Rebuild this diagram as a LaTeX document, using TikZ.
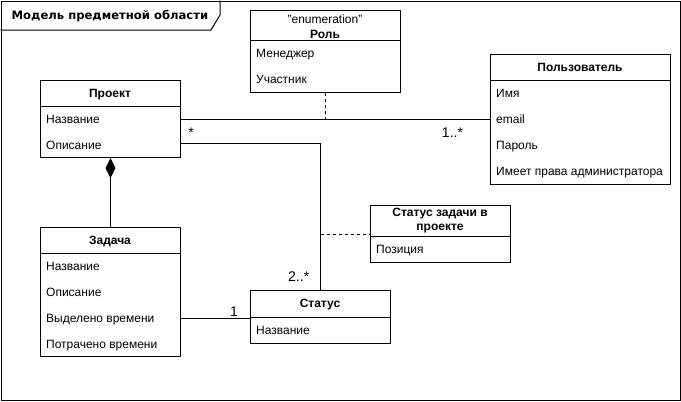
\documentclass[tikz,border=0pt]{standalone}
\usepackage{fontspec}
\setmainfont{Liberation Sans}
\newfontfamily\titlefont{DejaVu Sans}
\usetikzlibrary{arrows.meta}
\tikzset{
  every picture/.style={x=1pt,y=-1pt},
  box/.style={draw, line width=1pt, inner sep=0pt, anchor=north west, fill=white},
  item/.style={anchor=base west, inner sep=0pt, font=\fontsize{12}{14}\selectfont},
  head/.style={anchor=base, inner sep=0pt, font=\fontsize{12}{14}\selectfont\bfseries},
  conn/.style={line width=1pt},
  dconn/.style={line width=1pt, dash pattern=on 3pt off 3pt},
  mult/.style={anchor=base, inner sep=0pt, font=\fontsize{14}{16}\selectfont},
}
\begin{document}
\begin{tikzpicture}
\useasboundingbox (0,0) rectangle (681,402);
% frame
\node[box, minimum width=679pt, minimum height=399pt] (frame) at (0.5,0.5) {};
\draw[line width=1pt] (0.5,30) -- (211,30) -- (220,15) -- (220,0.5);
\node[anchor=base west, inner sep=0pt, font=\titlefont\fontsize{11.6}{13}\selectfont\bfseries] (ftitle) at (11.5,19.5) {Модель предметной области};

% Роль
\node[box, minimum width=150pt, minimum height=82pt] (role) at (250,10) {};
\draw[line width=1pt] (250,40) -- (400,40);
\node[head, font=\fontsize{12}{14}\selectfont] (rst) at (325,23) {"enumeration"};
\node[head] (rname) at (325,38) {Роль};
\node[item] (r1) at (256,57.5) {Менеджер};
\node[item] (r2) at (256,83) {Участник};

% Проект
\node[box, minimum width=140pt, minimum height=77pt] (proj) at (40,80) {};
\draw[line width=1pt] (40,106) -- (180,106);
\node[head] (pname) at (110,97.5) {Проект};
\node[item] (p1) at (46,123.5) {Название};
\node[item] (p2) at (46,149.5) {Описание};
\coordinate (p1c) at (46,119);
\coordinate (p2c) at (46,143.5);

% Пользователь
\node[box, minimum width=180pt, minimum height=130pt] (user) at (490,54) {};
\draw[line width=1pt] (490,80.5) -- (670,80.5);
\node[head] (uname) at (580,71.5) {Пользователь};
\node[item] (u1) at (496,97.5) {Имя};
\node[item] (u2) at (496,123.5) {email};
\node[item] (u3) at (496,149.5) {Пароль};
\node[item] (u4) at (496,175.5) {Имеет права администратора};

% Статус задачи в проекте
\node[box, minimum width=140pt, minimum height=57pt] (stp) at (370,205) {};
\draw[line width=1pt] (370,236) -- (510,236);
\node[head] (stname1) at (440,216) {Статус задачи в};
\node[head] (stname2) at (440,230.5) {проекте};
\node[item] (s1) at (376,253.5) {Позиция};

% Задача
\node[box, minimum width=140pt, minimum height=129pt] (task) at (40,227) {};
\draw[line width=1pt] (40,253) -- (180,253);
\node[head] (tname) at (110,244.5) {Задача};
\node[item] (t1) at (46,270.5) {Название};
\node[item] (t2) at (46,296.5) {Описание};
\node[item] (t3) at (46,322.5) {Выделено времени};
\node[item] (t4) at (46,348.5) {Потрачено времени};
\coordinate (t3c) at (46,318);

% Статус
\node[box, minimum width=140pt, minimum height=53pt] (status) at (250,290) {};
\draw[line width=1pt] (250,317) -- (390,317);
\node[head] (sname) at (320,307.5) {Статус};
\node[item] (st1) at (256,334.5) {Название};

% connectors
\coordinate (pr) at (proj.east |- p1c);
\coordinate (ul) at (user.west |- p1c);
\draw[conn] (pr) -- (ul);
\coordinate (rj) at (role.south |- p1c);
\draw[dconn] (role.south) -- (rj);
\node[mult] (m1) at (191,137.5) {*};
\node[mult] (m2) at (452.5,137.5) {1..*};

\coordinate (pd) at (proj.east |- p2c);
\draw[conn] (pd) -| (status.north);
\coordinate (aj) at (status.north |- stp.west);
\draw[dconn] (aj) -- (stp.west);
\node[mult] (m3) at (298.7,281.5) {2..*};

\draw[conn, -{Diamond[length=20pt,width=10pt]}] (task.north) -- (proj.south);

\coordinate (tr) at (task.east |- t3c);
\coordinate (sl) at (status.west |- t3c);
\draw[conn] (tr) -- (sl);
\node[mult] (m4) at (234,316) {1};
\end{tikzpicture}
\end{document}
